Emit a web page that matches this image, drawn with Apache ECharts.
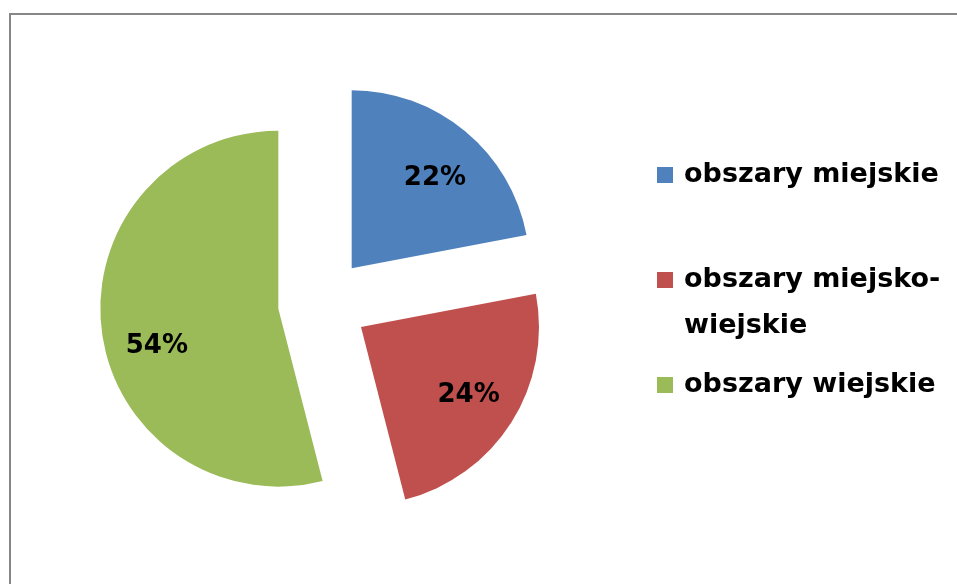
<!DOCTYPE html>
<html>
<head>
<meta charset="utf-8">
<script src="https://cdn.jsdelivr.net/npm/echarts@6/dist/echarts.min.js"></script>
<style>
  html, body { margin: 0; padding: 0; background: #fff; }
  #main { width: 957px; height: 584px; }
</style>
</head>
<body>
<div id="main"></div>
<script>
// dane wykresu
var categories = ['obszary miejskie', 'obszary miejsko-wiejskie', 'obszary wiejskie'];
var shares = [22, 24, 54];
var colors = ['#4F81BD', '#C0504D', '#9BBB59'];

var chart = echarts.init(document.getElementById('main'));

var pieData = [];
for (var i = 0; i < categories.length; i++) {
    pieData.push({
        name: categories[i],
        value: shares[i],
        selected: true,
        itemStyle: { color: colors[i] }
    });
}

var font = '"DejaVu Sans", sans-serif';

// drobne przesunięcia etykiet procentowych (jak w Excelu):
// pusta linia nad tekstem przesuwa go w dół o lineHeight / 2
var labelShift = {
    'obszary miejskie': { lineHeight: 16, padding: [0, 0, 0, 4] },
    'obszary wiejskie': { lineHeight: 44, padding: [0, 0, 0, 10] }
};

chart.setOption({
    animation: false,
    backgroundColor: '#fff',
    graphic: [{
        type: 'rect',
        silent: true,
        shape: { x: 10, y: 14, width: 1200, height: 1200 },
        style: { fill: 'none', stroke: '#868686', lineWidth: 2 }
    }],
    legend: {
        orient: 'vertical',
        left: 657,
        top: 152,
        padding: 0,
        itemGap: 13,
        itemWidth: 16,
        itemHeight: 16,
        icon: 'rect',
        selectedMode: false,
        // wpis z myślnikiem łamany na dwie linie, pierwsza linia na wysokości ikony
        formatter: function (name) {
            if (name.indexOf('-') > 0) {
                return '\n' + name.replace('-', '-\n');
            }
            return name;
        },
        textStyle: {
            fontFamily: font,
            fontWeight: 'bold',
            fontSize: 27,
            lineHeight: 46,
            color: '#000',
            padding: [0, 0, 0, 6]
        },
        data: categories
    },
    series: [
        {
            type: 'pie',
            center: [323, 303],
            radius: [0, 178],
            startAngle: 90,
            selectedMode: 'multiple',
            selectedOffset: 45,
            label: { show: false },
            labelLine: { show: false },
            itemStyle: { borderWidth: 0 },
            emphasis: { scale: false, disabled: true },
            data: pieData
        },
        {
            // przezroczysta warstwa tylko dla etykiet procentowych
            type: 'pie',
            silent: true,
            center: [323, 303],
            radius: [71, 178],
            startAngle: 90,
            selectedMode: 'multiple',
            selectedOffset: 45,
            itemStyle: { color: 'rgba(0,0,0,0)', borderWidth: 0 },
            label: {
                show: true,
                position: 'inside',
                formatter: '{c}%',
                fontFamily: font,
                fontWeight: 'bold',
                fontSize: 26,
                color: '#000'
            },
            labelLine: { show: false },
            emphasis: { disabled: true },
            data: pieData.map(function (d) {
                var item = { name: d.name, value: d.value, selected: true };
                var s = labelShift[d.name];
                if (s) {
                    item.label = {
                        formatter: '\n{c}%',
                        lineHeight: s.lineHeight,
                        padding: s.padding
                    };
                }
                return item;
            })
        }
    ]
});
</script>
</body>
</html>
